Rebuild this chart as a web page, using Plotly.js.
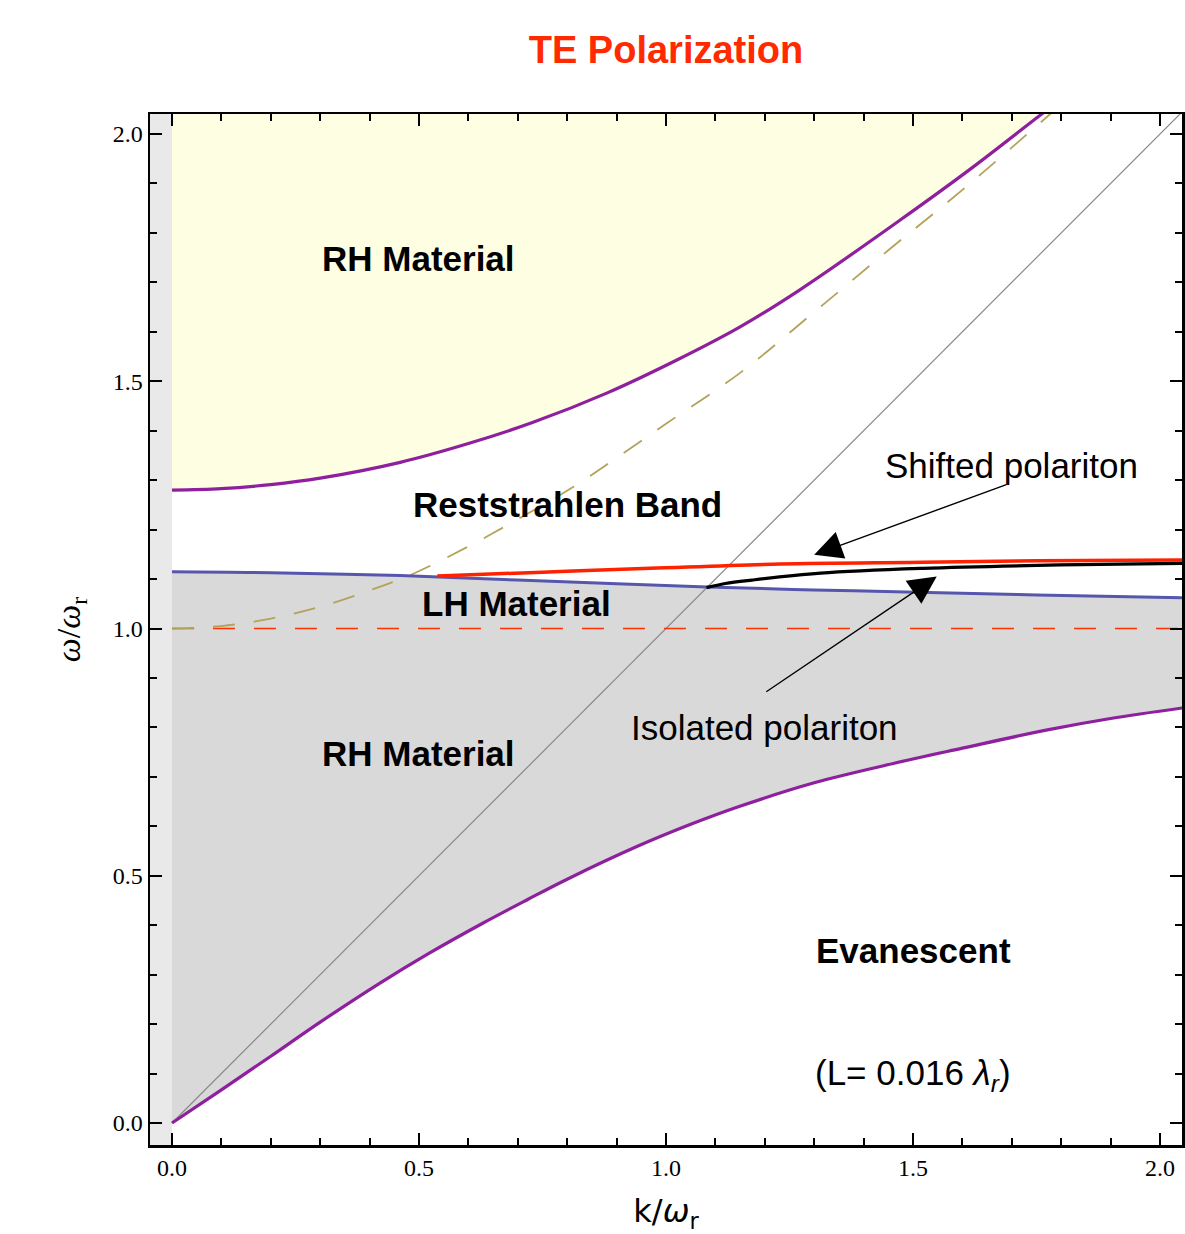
<!DOCTYPE html>
<html>
<head>
<meta charset="utf-8">
<script src="https://cdn.plot.ly/plotly-3.0.1.min.js"></script>
<style>
html,body{margin:0;padding:0;background:#fff;}
#chart{width:1185px;height:1234px;}
</style>
</head>
<body>
<div id="chart"></div>
<script>
// ---- data (k/ωr , ω/ωr) ----
var upperK = [0, 0.1, 0.2, 0.3, 0.462, 0.6, 0.731, 0.88, 1.022, 1.15, 1.271, 1.474, 1.62, 1.76, 1.8];
var upperW = [1.28, 1.283, 1.291, 1.304, 1.336, 1.374, 1.417, 1.476, 1.543, 1.61, 1.685, 1.826, 1.932, 2.04, 2.07];

var lowerK = [0, 0.1, 0.2, 0.3, 0.421, 0.52, 0.629, 0.72, 0.8, 0.941, 1.05, 1.148, 1.3, 1.46, 1.6, 1.772, 1.9, 2.05];
var lowerW = [0, 0.067, 0.135, 0.204, 0.283, 0.343, 0.404, 0.452, 0.493, 0.559, 0.604, 0.640, 0.688, 0.727, 0.758, 0.795, 0.818, 0.84];

var blueK = [0, 0.2, 0.462, 0.7, 1.083, 1.3, 1.486, 1.75, 2.05];
var blueW = [1.115, 1.113, 1.107, 1.098, 1.084, 1.078, 1.074, 1.068, 1.062];

var redK = [0.537, 0.75, 0.968, 1.231, 1.52, 1.75, 2.05];
var redW = [1.106, 1.114, 1.1217, 1.1305, 1.134, 1.137, 1.1385];

var blackK = [1.082, 1.12, 1.174, 1.313, 1.52, 1.797, 2.05];
var blackW = [1.0826, 1.091, 1.098, 1.112, 1.1217, 1.1285, 1.132];

var dashK = [0, 0.1, 0.2, 0.3, 0.4, 0.482, 0.6, 0.7, 0.812, 0.9, 1.0, 1.15, 1.3, 1.45, 1.6, 1.8];
var dashW = [1.0, 1.005, 1.02, 1.044, 1.077, 1.108, 1.166, 1.221, 1.286, 1.345, 1.414, 1.517, 1.64, 1.765, 1.887, 2.06];

var lightK = [0, 2.1];
var lightW = [0, 2.1];

var resK = [0, 2.05];
var resW = [1.0, 1.0];

var topK = [0, 1.8];
var topW = [2.1, 2.1];

var tickVals = [0, 0.5, 1.0, 1.5, 2.0];
var tickText = ["0.0", "0.5", "1.0", "1.5", "2.0"];

var PURPLE = "#8e1f9e";
var traces = [
  // fills
  {x: topK, y: topW, mode: "lines", line: {width: 0}, hoverinfo: "skip", showlegend: false},
  {x: upperK, y: upperW, mode: "lines", line: {width: 0, shape: "spline", smoothing: 1}, fill: "tonexty",
   fillcolor: "#fefee2", hoverinfo: "skip", showlegend: false},
  {x: blueK, y: blueW, mode: "lines", line: {width: 0, shape: "spline", smoothing: 1}, hoverinfo: "skip", showlegend: false},
  {x: lowerK, y: lowerW, mode: "lines", line: {width: 0, shape: "spline", smoothing: 1}, fill: "tonexty",
   fillcolor: "#d9d9d9", hoverinfo: "skip", showlegend: false},
  // lines
  {x: lightK, y: lightW, mode: "lines", line: {color: "#8a8a8a", width: 1.2}, showlegend: false},
  {x: resK, y: resW, mode: "lines", line: {color: "#ff3300", width: 1.5, dash: "22px,19px"}, showlegend: false},
  {x: dashK, y: dashW, mode: "lines", line: {color: "#b3a35a", width: 1.8, dash: "22px,19px", shape: "spline", smoothing: 1}, showlegend: false},
  {x: blueK, y: blueW, mode: "lines", line: {color: "#5656ad", width: 3, shape: "spline", smoothing: 1}, showlegend: false},
  {x: lowerK, y: lowerW, mode: "lines", line: {color: PURPLE, width: 3.2, shape: "spline", smoothing: 1}, showlegend: false},
  {x: upperK, y: upperW, mode: "lines", line: {color: PURPLE, width: 3.2, shape: "spline", smoothing: 1}, showlegend: false},
  {x: redK, y: redW, mode: "lines", line: {color: "#ff2200", width: 3.5, shape: "spline", smoothing: 1}, showlegend: false},
  {x: blackK, y: blackW, mode: "lines", line: {color: "#000000", width: 3.2, shape: "spline", smoothing: 1}, showlegend: false}
];

var SANS = "Liberation Sans, Arial, sans-serif";
function lbl(x, y, t, bold, size) {
  return {x: x, y: y, xref: "x", yref: "y", text: bold ? "<b>" + t + "</b>" : t, showarrow: false,
          font: {family: SANS, size: size || 35, color: "#000"}, xanchor: "center", yanchor: "middle"};
}
function arrow(hx, hy, tx, ty) {
  return {x: hx, y: hy, ax: tx, ay: ty, xref: "x", yref: "y", axref: "x", ayref: "y", text: "",
          showarrow: true, arrowhead: 2, arrowsize: 4, arrowwidth: 1.4, arrowcolor: "#000", standoff: 0};
}

var layout = {
  width: 1185, height: 1234,
  margin: {l: 150, r: 3, t: 114, b: 89},
  paper_bgcolor: "#fff", plot_bgcolor: "#fff",
  showlegend: false,
  title: {text: "<b>TE Polarization</b>", x: 0.5, xref: "paper", xanchor: "center",
          y: 1 - 50 / 1234, yref: "container", yanchor: "middle",
          font: {family: SANS, size: 38, color: "#ff2a00"}},
  xaxis: {
    range: [-0.0445, 2.0445], showgrid: false, zeroline: false,
    showline: true, linecolor: "#000", linewidth: 2.5, mirror: "allticks",
    ticks: "inside", ticklen: 12, tickwidth: 2, tickcolor: "#000",
    tickvals: tickVals, ticktext: tickText,
    minor: {dtick: 0.1, ticks: "inside", ticklen: 7, tickwidth: 2, tickcolor: "#000", showgrid: false},
    tickfont: {family: "Liberation Serif, Times New Roman, serif", size: 24, color: "#000"},
    title: {text: "k/<i>ω</i><sub>r</sub>", standoff: 34,
            font: {family: "DejaVu Sans, sans-serif", size: 32, color: "#000"}}
  },
  yaxis: {
    range: [-0.0445, 2.0405], showgrid: false, zeroline: false,
    showline: true, linecolor: "#000", linewidth: 2.5, mirror: "allticks",
    ticks: "inside", ticklen: 12, tickwidth: 2, tickcolor: "#000",
    tickvals: tickVals, ticktext: tickText,
    minor: {dtick: 0.1, ticks: "inside", ticklen: 7, tickwidth: 2, tickcolor: "#000", showgrid: false},
    tickfont: {family: "Liberation Serif, Times New Roman, serif", size: 24, color: "#000"},
    title: {text: "<i>ω</i>/<i>ω</i><sub>r</sub>", standoff: 22,
            font: {family: "Liberation Serif, Times New Roman, serif", size: 34, color: "#000"}}
  },
  shapes: [
    {type: "rect", xref: "x", yref: "paper", x0: -0.0445, x1: 0, y0: 0, y1: 1,
     fillcolor: "#e9e9e9", line: {width: 0}, layer: "below"}
  ],
  annotations: [
    lbl(0.498, 1.749, "RH Material", true),
    lbl(0.800, 1.250, "Reststrahlen Band", true),
    lbl(0.698, 1.050, "LH Material", true),
    lbl(0.498, 0.748, "RH Material", true),
    lbl(1.500, 0.348, "Evanescent", true),
    lbl(1.500, 0.097, "(L= 0.016 <i>λ</i><sub><i>r</i></sub>)", false, 35),
    lbl(1.700, 1.329, "Shifted polariton", false, 35),
    lbl(1.200, 0.799, "Isolated polariton", false, 35),
    arrow(1.300, 1.149, 1.692, 1.292),
    arrow(1.548, 1.105, 1.200, 0.870)
  ]
};

Plotly.newPlot("chart", traces, layout, {displayModeBar: false, staticPlot: true});
</script>
</body>
</html>
